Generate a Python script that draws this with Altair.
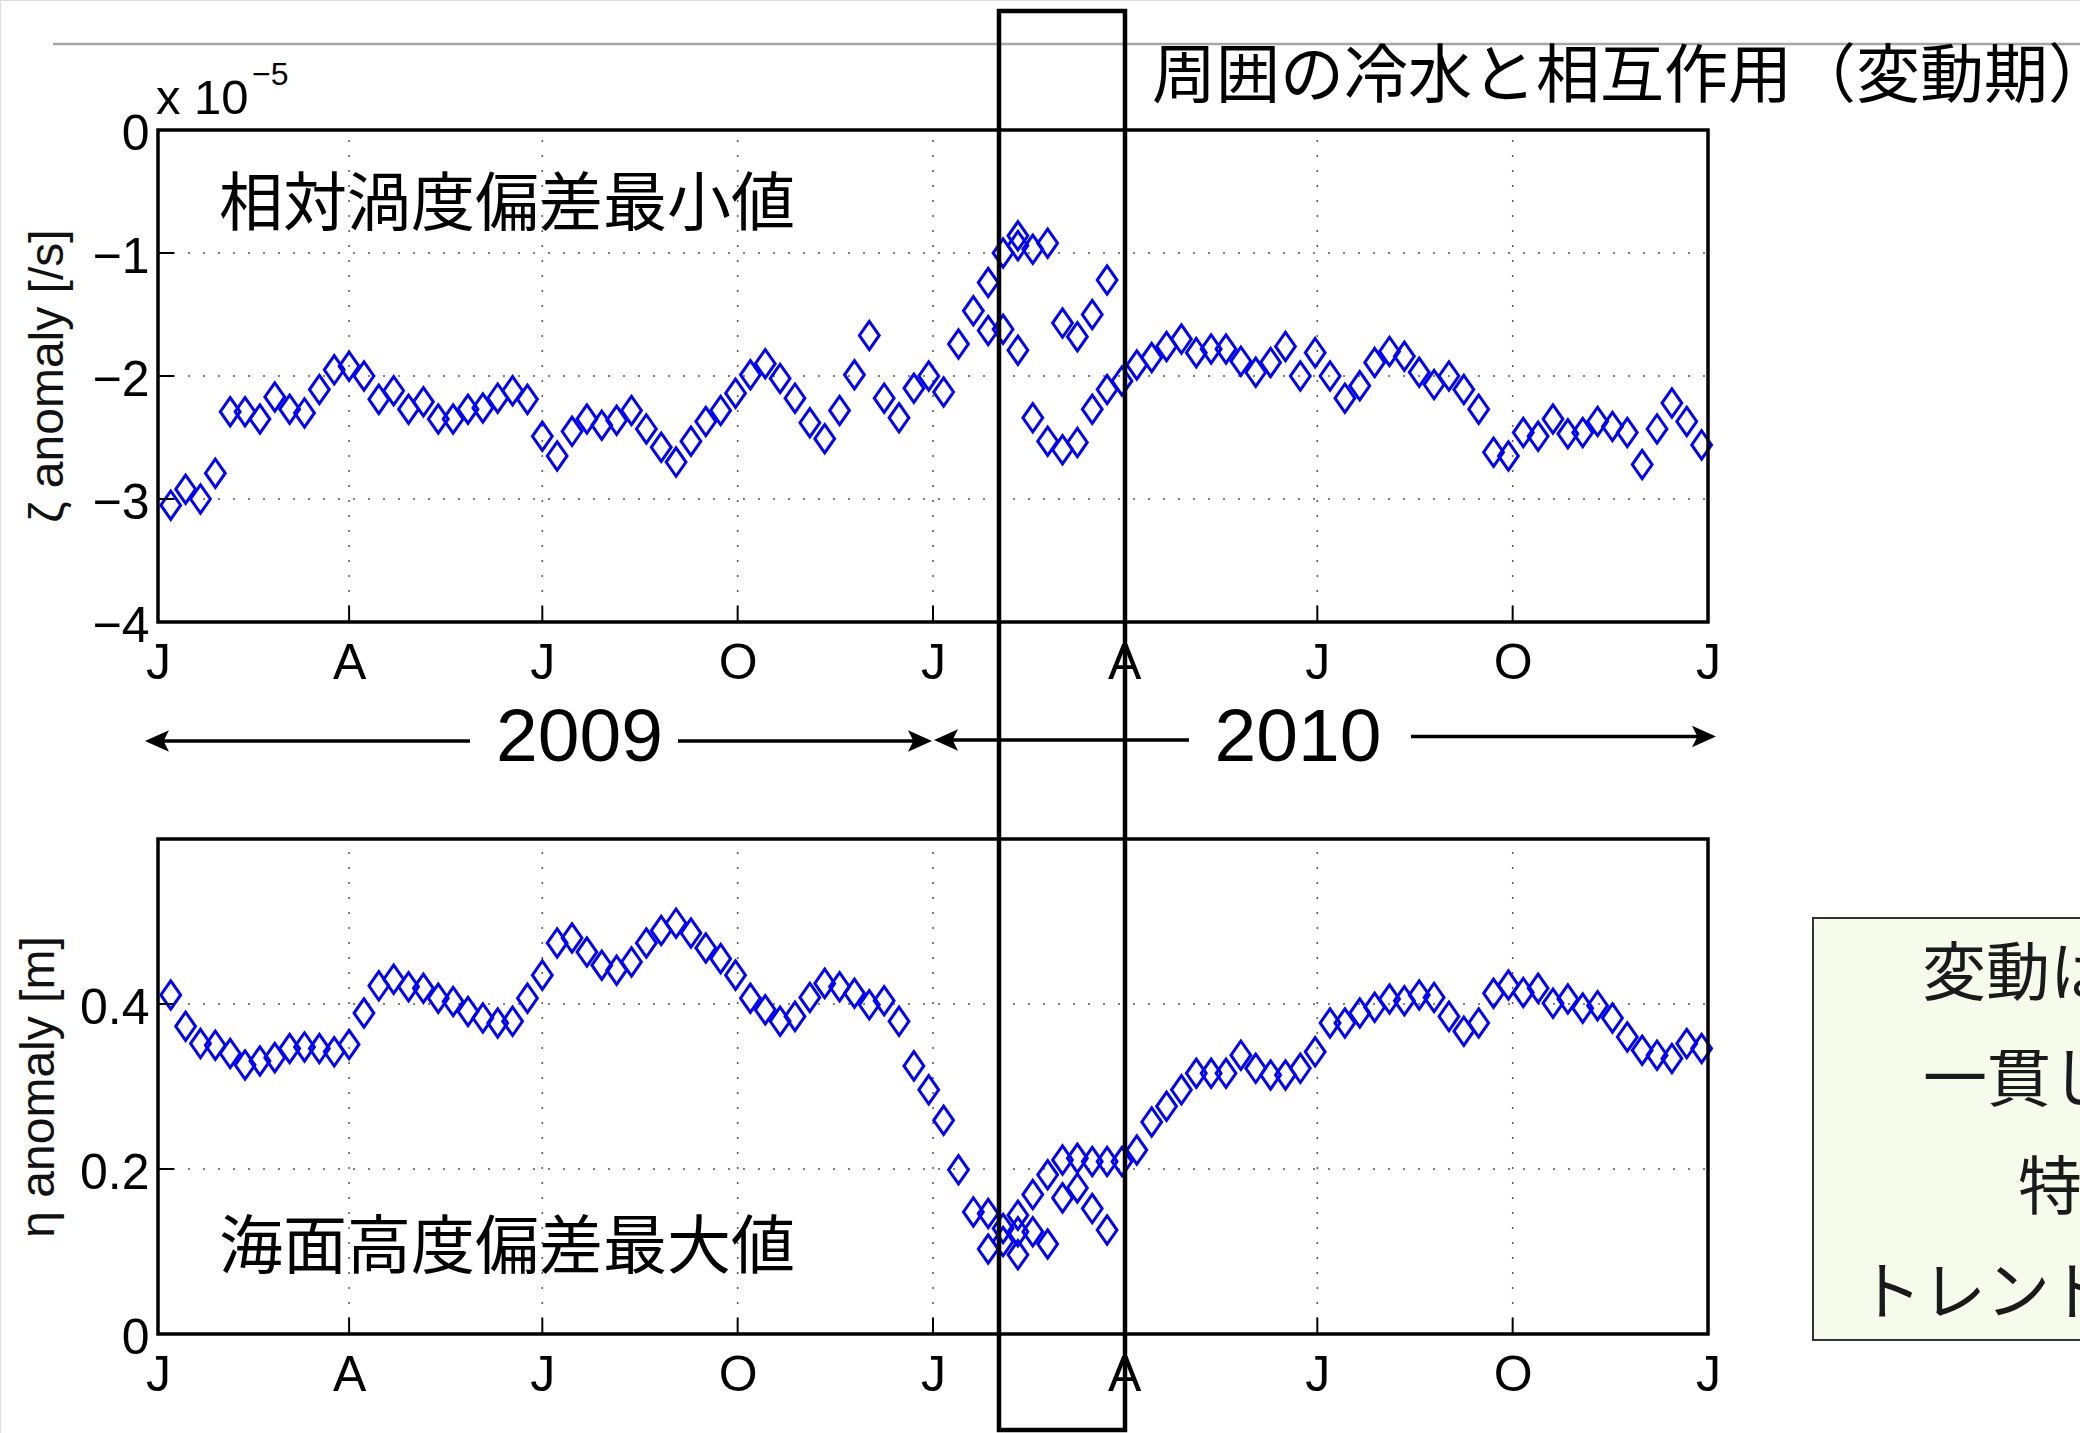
import altair as alt
import pandas as pd

FONT_LATIN = "Liberation Sans"
FONT_JP = "Noto Sans CJK JP"

# ---------------------------------------------------------------- data
# Weekly records starting 2009-01-07 (104 weeks)
FIRST_WEEK = "2009-01-07"

# Minimum relative-vorticity anomaly, in units of 1e-5 /s
zeta_min = [
    -3.05, -2.92, -3.00, -2.79, -2.29, -2.29, -2.35, -2.17, -2.27, -2.30,
    -2.11, -1.95, -1.92, -2.00, -2.19, -2.12, -2.27, -2.21, -2.35, -2.35,
    -2.27, -2.26, -2.18, -2.12, -2.19, -2.49, -2.65, -2.45, -2.35, -2.40,
    -2.36, -2.28, -2.43, -2.58, -2.70, -2.53, -2.37, -2.28, -2.14, -1.99,
    -1.90, -2.02, -2.18, -2.38, -2.51, -2.28, -1.99, -1.67, -2.18, -2.34,
    -2.10, -2.00, -2.13, -1.74, -1.47, -1.24, -1.00, -0.86, -0.97, -0.92,
    -1.57, -1.68, -1.50, -1.22, -2.04, -1.91, -1.85, -1.76, -1.70, -1.81,
    -1.78, -1.78, -1.88, -1.97, -1.89, -1.76, -2.00, -1.81, -2.00, -2.18,
    -2.08, -1.89, -1.80, -1.84, -1.97, -2.07, -2.00, -2.11, -2.27, -2.62,
    -2.65, -2.46, -2.49, -2.35, -2.47, -2.46, -2.37, -2.41, -2.46, -2.72,
    -2.43, -2.22, -2.37, -2.56,
]
# additional detections during the Feb-Mar 2010 event (week index, value)
zeta_extra_week = [55, 56, 57, 57, 58, 59, 60, 61, 62, 63]
zeta_extra = [-1.63, -1.62, -0.94, -1.79, -2.34, -2.53, -2.60, -2.54, -2.27, -2.11]

# Maximum sea-surface-height anomaly [m]
eta_max = [
    0.411, 0.373, 0.352, 0.350, 0.340, 0.326, 0.331, 0.335, 0.346, 0.348,
    0.346, 0.342, 0.351, 0.389, 0.422, 0.430, 0.421, 0.419, 0.407, 0.403,
    0.391, 0.383, 0.377, 0.379, 0.407, 0.435, 0.474, 0.480, 0.463, 0.447,
    0.441, 0.451, 0.474, 0.489, 0.498, 0.486, 0.468, 0.455, 0.435, 0.407,
    0.393, 0.379, 0.385, 0.408, 0.425, 0.421, 0.413, 0.399, 0.404, 0.379,
    0.325, 0.296, 0.259, 0.199, 0.148, 0.146, 0.128, 0.144, 0.169, 0.193,
    0.211, 0.213, 0.209, 0.209, 0.209, 0.223, 0.257, 0.276, 0.296, 0.316,
    0.316, 0.316, 0.338, 0.322, 0.314, 0.314, 0.322, 0.342, 0.377, 0.377,
    0.389, 0.396, 0.406, 0.404, 0.411, 0.408, 0.385, 0.367, 0.377, 0.413,
    0.423, 0.414, 0.419, 0.401, 0.406, 0.395, 0.398, 0.383, 0.360, 0.344,
    0.338, 0.334, 0.352, 0.346,
]
eta_extra_week = [55, 56, 57, 57, 58, 59, 60, 61, 62, 63]
eta_extra = [0.103, 0.112, 0.124, 0.096, 0.124, 0.109, 0.165, 0.177, 0.152, 0.126]

quarter_ticks = ["2009-01-01", "2009-04-01", "2009-07-01", "2009-10-01",
                 "2010-01-01", "2010-04-01", "2010-07-01", "2010-10-01",
                 "2011-01-01"]

zeta_ticks = [-4, -3, -2, -1, 0]
eta_ticks = [0, 0.2, 0.4]


def ms(ts):
    return int(pd.Timestamp(ts).value // 10**6)


def week_ms(k):
    return ms(pd.Timestamp(FIRST_WEEK) + pd.Timedelta(days=7 * k))


weeks = list(range(len(zeta_min)))
zeta_df = pd.DataFrame({
    "t": [week_ms(k) for k in weeks + zeta_extra_week],
    "v": zeta_min + zeta_extra,
})
eta_df = pd.DataFrame({
    "t": [week_ms(k) for k in weeks + eta_extra_week],
    "v": eta_max + eta_extra,
})

QT = [ms(d) for d in quarter_ticks]
X0, X1 = QT[0], QT[-1]
TICK_DAYS = 7.5 * 86400000  # inward tick length along time

# ---------------------------------------------------------------- layout
W, H = 2080, 1433
PLOT_L, PLOT_R = 158, 1708
TOP_Y0, TOP_Y1 = 622, 130       # pixel rows for -4 and 0
BOT_Y0, BOT_Y1 = 1334, 839      # pixel rows for 0 and 0.6

DIAMOND = "M0,-1L0.7,0L0,1L-0.7,0Z"
ARROW = "M1,0L-1,-0.9L-0.55,0L-1,0.9Z"
DOTTED = dict(color="#555555", strokeWidth=1.5, strokeDash=[2, 13])
LABELS = dict(labelFont=FONT_LATIN, labelFontSize=50, labelColor="black",
              labelFlush=False, labelOverlap=False)


def x_scale():
    return alt.Scale(type="utc", domain=[X0, X1], range=[PLOT_L, PLOT_R], nice=False)


def x_axis(axis_y):
    return alt.Axis(orient="bottom", offset=axis_y - H, values=QT,
                    labelExpr="substring(utcFormat(datum.value, '%b'), 0, 1)",
                    ticks=False, domain=False, grid=False, labelPadding=16,
                    title=None, **LABELS)


def y_axis(values, fmt):
    return alt.Axis(orient="left", offset=-PLOT_L, values=values, format=fmt,
                    ticks=False, domain=False, grid=False, labelPadding=9,
                    labelOffset=4, title=None, **LABELS)


def panel(df, domain, rng, ticks, fmt, axis_y, tick_len):
    ymin, ymax = domain

    def ys():
        return alt.Scale(domain=domain, range=rng, nice=False, zero=False)

    inner_t = pd.DataFrame({"t": QT[1:-1]})
    inner_v = pd.DataFrame({"v": ticks[1:]})

    # dotted grid
    vgrid = alt.Chart(inner_t).mark_rule(**DOTTED).encode(
        x=alt.X("t:T", scale=x_scale(), axis=None),
        y=alt.Y(datum=ymin, type="quantitative", scale=ys(), axis=None),
        y2=alt.Y2(datum=ymax),
    )
    hgrid = alt.Chart(inner_v).mark_rule(**DOTTED).encode(
        x=alt.X(datum=X0, type="temporal", scale=x_scale(), axis=None),
        x2=alt.X2(datum=X1),
        y=alt.Y("v:Q", scale=ys(), axis=None),
    )
    pts = alt.Chart(df).mark_point(
        shape=DIAMOND, size=800, filled=False, color="#0000ff",
        strokeWidth=3, opacity=1,
    ).encode(
        x=alt.X("t:T", scale=x_scale(), axis=x_axis(axis_y)),
        y=alt.Y("v:Q", scale=ys(), axis=y_axis(ticks, fmt)),
    )
    # inward ticks
    xt = alt.Chart(inner_t).mark_rule(color="black", strokeWidth=2).encode(
        x=alt.X("t:T", scale=x_scale(), axis=None),
        y=alt.Y(datum=ymin, type="quantitative", scale=ys(), axis=None),
        y2=alt.Y2(datum=ymin + tick_len),
    )
    yt = alt.Chart(inner_v).mark_rule(color="black", strokeWidth=2).encode(
        x=alt.X(datum=X0, type="temporal", scale=x_scale(), axis=None),
        x2=alt.X2(datum=X0 + TICK_DAYS),
        y=alt.Y("v:Q", scale=ys(), axis=None),
    )
    frame = alt.Chart(pd.DataFrame({"a": [0]})).mark_rect(
        fillOpacity=0, stroke="black", strokeWidth=3.5,
    ).encode(
        x=alt.X(datum=X0, type="temporal", scale=x_scale(), axis=None),
        x2=alt.X2(datum=X1),
        y=alt.Y(datum=ymin, type="quantitative", scale=ys(), axis=None),
        y2=alt.Y2(datum=ymax),
    )
    return [vgrid, hgrid, pts, xt, yt, frame]


top = panel(zeta_df, [-4, 0], [TOP_Y0, TOP_Y1], zeta_ticks, "d", TOP_Y0, 16 / 123)
bottom = panel(eta_df, [0, 0.6], [BOT_Y0, BOT_Y1], eta_ticks, ".1~f", BOT_Y0,
               16 * 0.6 / 495)


# ---------------------------------------------------------------- annotations
def px(df):
    return alt.Chart(df)


PX = dict(x=alt.X("x:Q", scale=None), y=alt.Y("y:Q", scale=None))

top_rule = px(pd.DataFrame({"x": [53], "x2": [2085], "y": [44]})).mark_rule(
    color="#a6a6a6", strokeWidth=2.5
).encode(x=alt.X("x:Q", scale=None), x2="x2:Q", y=alt.Y("y:Q", scale=None))

arrow_lines = px(pd.DataFrame({
    "x": [152, 678, 944, 1411], "x2": [470, 924, 1189, 1708],
    "y": [741, 741, 740, 736.5],
})).mark_rule(color="black", strokeWidth=3.5).encode(
    x=alt.X("x:Q", scale=None), x2="x2:Q", y=alt.Y("y:Q", scale=None))

arrow_heads = px(pd.DataFrame({
    "x": [157, 920, 946, 1704], "y": [741, 741, 740, 736.5],
    "a": [180, 0, 180, 0],
})).mark_point(shape=ARROW, size=576, filled=True, color="black", opacity=1).encode(
    angle=alt.Angle("a:Q", scale=None), **PX)

years = px(pd.DataFrame({"x": [579.5, 1298], "y": [761, 761], "t": ["2009", "2010"]})
           ).mark_text(font=FONT_LATIN, fontSize=75, align="center",
                       baseline="alphabetic", color="black").encode(text="t:N", **PX)

x10 = px(pd.DataFrame({"x": [156], "y": [114], "t": ["x 10"]})).mark_text(
    font=FONT_LATIN, fontSize=49, align="left", baseline="alphabetic", color="black"
).encode(text="t:N", **PX)
x10_exp = px(pd.DataFrame({"x": [252], "y": [85], "t": ["\u22125"]})).mark_text(
    font=FONT_LATIN, fontSize=32, align="left", baseline="alphabetic", color="black"
).encode(text="t:N", **PX)

axis_titles = px(pd.DataFrame({
    "x": [63, 54], "y": [376, 1087],
    "t": ["\u03b6 anomaly [/s]", "\u03b7 anomaly  [m]"],
})).mark_text(font=FONT_LATIN, fontSize=48, angle=270, align="center",
              baseline="alphabetic", color="#111111").encode(text="t:N", **PX)

panel_labels = px(pd.DataFrame({
    "x": [219, 219], "y": [225, 1268],
    "t": ["相対渦度偏差最小値", "海面高度偏差最大値"],
})).mark_text(font=FONT_JP, fontSize=64, align="left", baseline="alphabetic",
              color="black").encode(text="t:N", **PX)

headline = px(pd.DataFrame({"x": [1152], "y": [97], "t": ["周囲の冷水と相互作用（変動期）"]})
              ).mark_text(font=FONT_JP, fontSize=64, align="left",
                          baseline="alphabetic", color="black").encode(text="t:N", **PX)

event_box = px(pd.DataFrame({"x": [999], "x2": [1125], "y": [11], "y2": [1430]})).mark_rect(
    fillOpacity=0, stroke="black", strokeWidth=4.5
).encode(x=alt.X("x:Q", scale=None), x2="x2:Q", y=alt.Y("y:Q", scale=None), y2="y2:Q")

note_box = px(pd.DataFrame({"x": [1813], "x2": [2095], "y": [918], "y2": [1340]})).mark_rect(
    fill="#f6fbec", stroke="#333333", strokeWidth=2
).encode(x=alt.X("x:Q", scale=None), x2="x2:Q", y=alt.Y("y:Q", scale=None), y2="y2:Q")

note_text = px(pd.DataFrame({
    "x": [1922, 1923, 2018, 1858],
    "y": [995, 1101, 1209, 1314],
    "t": ["変動は", "一貫し", "特", "トレンド"],
})).mark_text(font=FONT_JP, fontSize=64, align="left", baseline="alphabetic",
              color="#1a1a1a").encode(text="t:N", **PX)

chart = alt.layer(
    top_rule, *top, *bottom, arrow_lines, arrow_heads, years, x10, x10_exp,
    axis_titles, panel_labels, headline, note_box, note_text, event_box,
).resolve_scale(
    x="independent", y="independent"
).properties(
    width=W, height=H, padding=0,
    autosize=alt.AutoSizeParams(type="none"),
).configure_view(
    strokeWidth=0
).configure(
    background="white"
)

chart.save("out.html", embed_options={"renderer": "svg", "actions": False})
